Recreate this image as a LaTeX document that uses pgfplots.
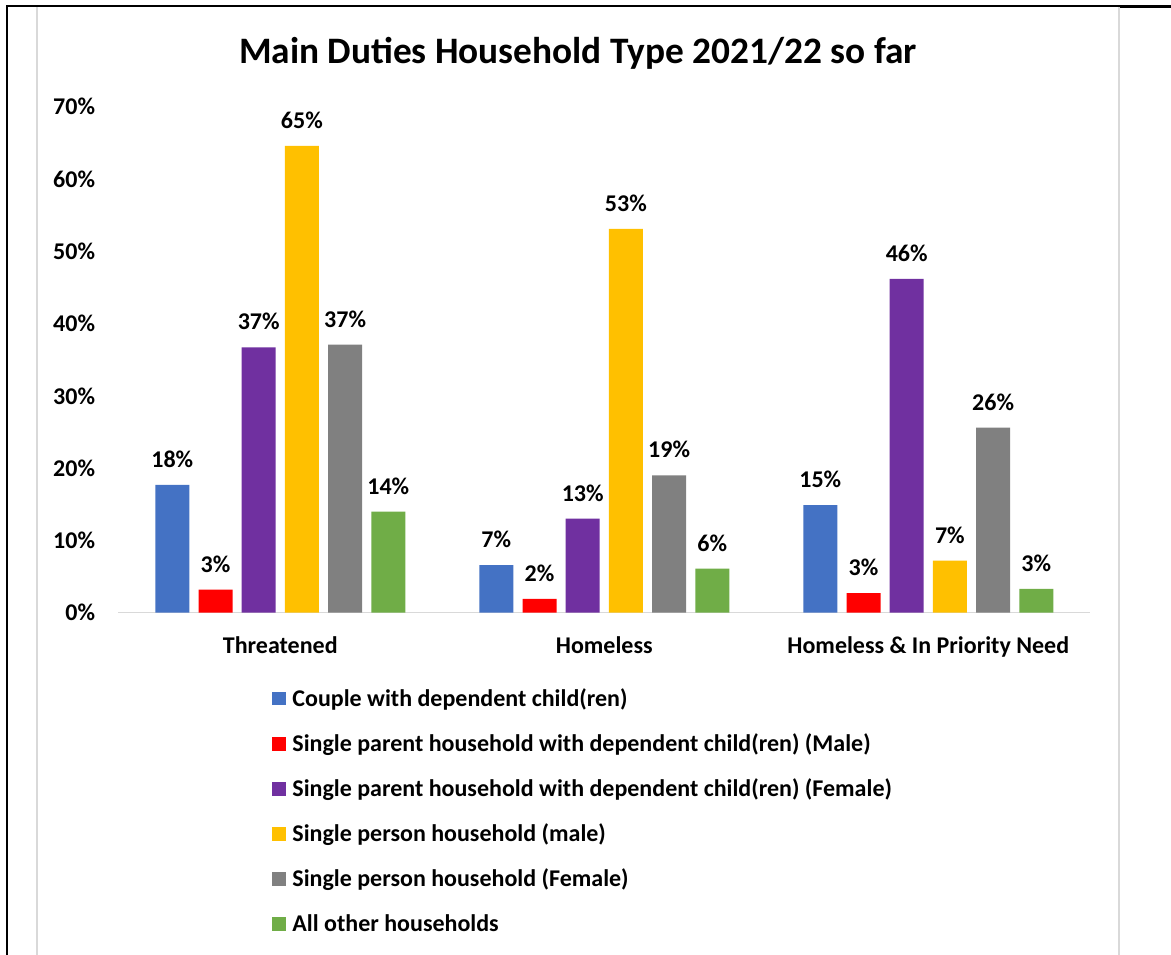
\documentclass[border=0pt]{standalone}
\usepackage{fontspec}
\setmainfont{Carlito}
\usepackage{pgfplots}
\pgfplotsset{compat=1.18}
\definecolor{cBlue}{HTML}{4472C4}
\definecolor{cRed}{HTML}{FF0000}
\definecolor{cPurple}{HTML}{7030A0}
\definecolor{cYellow}{HTML}{FFC000}
\definecolor{cGray}{HTML}{808080}
\definecolor{cGreen}{HTML}{70AD47}
\definecolor{frameGray}{HTML}{D9D9D9}
\begin{document}
\begin{tikzpicture}
\useasboundingbox (0,0) rectangle (878.25pt,-715.5pt);
\fill[white] (0,0) rectangle (878.25pt,-715.5pt);
% frame
\draw[line width=1.5pt] (5.25pt,-4.5pt) -- (5.25pt,-716pt);
\draw[line width=1.5pt] (4.5pt,-4.5pt) -- (879pt,-4.5pt);
\draw[line width=2.25pt] (839pt,-4.9pt) -- (879pt,-4.9pt);
\draw[frameGray, line width=1.5pt] (27.75pt,-5.5pt) -- (27.75pt,-716pt);
\draw[frameGray, line width=1.5pt] (839.25pt,-5.5pt) -- (839.25pt,-716pt);
\node[font=\fontsize{28}{33}\selectfont\bfseries, anchor=base, inner sep=0pt] at (433.5pt,-47.25pt) {Main Duties Household Type 2021/22 so far};
\begin{axis}[
  at={(88.725pt,-459.525pt)}, anchor=south west,
  scale only axis, width=729pt, height=379.5pt,
  xmin=-0.5, xmax=2.5, ymin=0, ymax=70,
  axis x line*=bottom, axis y line*=left,
  x axis line style={frameGray, line width=1.1pt, -},
  y axis line style={draw=none},
  major tick length=0pt,
  xtick={0,1,2},
  xticklabels={Threatened,Homeless,Homeless \& In Priority Need},
  ytick={0,10,20,30,40,50,60,70},
  yticklabels={0\%,10\%,20\%,30\%,40\%,50\%,60\%,70\%},
  tick label style={font=\fontsize{18}{21}\selectfont\bfseries},
  xticklabel style={anchor=base, yshift=-30.75pt, inner sep=0pt},
  yticklabel style={anchor=east, xshift=-17.25pt, inner sep=0pt},
  /pgf/number format/assume math mode=true,
  ybar, bar width=25.5pt,
  legend image code/.code={\fill[#1] (0pt,-3.25pt) rectangle (10.1pt,6.85pt);},
  nodes near coords={\pgfmathprintnumber[fixed,precision=0]{\pgfplotspointmeta}\%},
  every node near coord/.append style={font=\fontsize{18}{21}\selectfont\bfseries, inner sep=0pt, anchor=south, yshift=12.75pt, black},
  legend style={draw=none, fill=none, at={(0.1584,-0.1536)}, anchor=north west,
    inner sep=0pt, outer sep=0pt, row sep=17.8pt, column sep=5pt,
    nodes={inner sep=0pt, text height=12pt, text depth=4pt, font=\fontsize{18}{21}\selectfont\bfseries}},
  legend cell align=left,
]
\addplot[fill=cBlue, draw=none, bar shift=-81pt] coordinates {(0,17.7) (1,6.6) (2,14.9)};
\addlegendentry{Couple with dependent child(ren)}
\addplot[fill=cRed, draw=none, bar shift=-48.6pt] coordinates {(0,3.2) (1,1.9) (2,2.7)};
\addlegendentry{Single parent household with dependent child(ren) (Male)}
\addplot[fill=cPurple, draw=none, bar shift=-16.2pt] coordinates {(0,36.7) (1,13.0) (2,46.2)};
\addlegendentry{Single parent household with dependent child(ren) (Female)}
\addplot[fill=cYellow, draw=none, bar shift=16.2pt] coordinates {(0,64.6) (1,53.1) (2,7.2)};
\addlegendentry{Single person household (male)}
\addplot[fill=cGray, draw=none, bar shift=48.6pt] coordinates {(0,37.1) (1,19.0) (2,25.6)};
\addlegendentry{Single person household (Female)}
\addplot[fill=cGreen, draw=none, bar shift=81pt] coordinates {(0,14.0) (1,6.1) (2,3.3)};
\addlegendentry{All other households}
\end{axis}
\end{tikzpicture}
\end{document}
